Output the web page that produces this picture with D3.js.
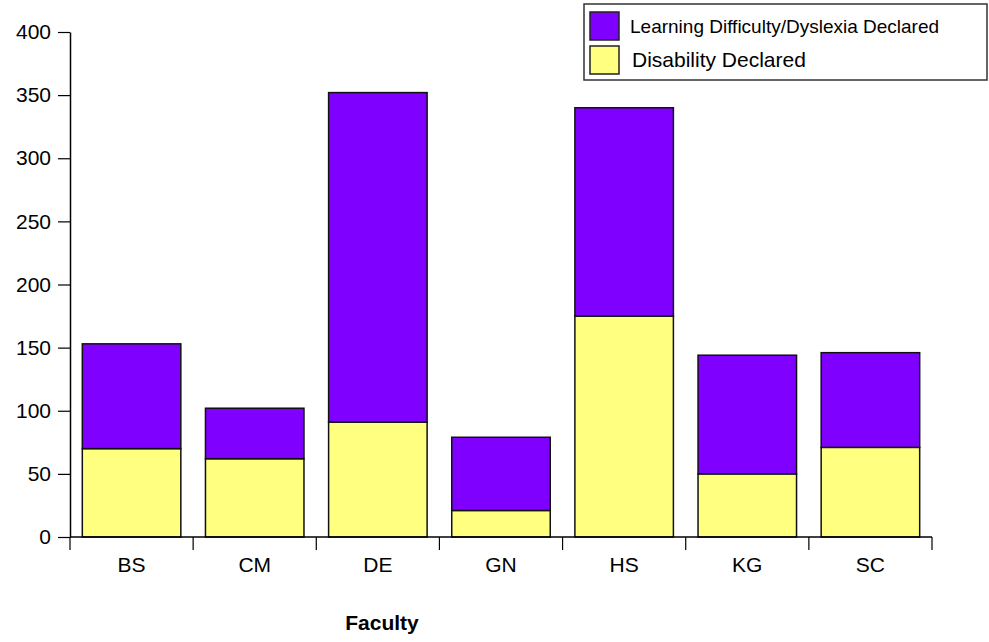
<!DOCTYPE html>
<html>
<head>
<meta charset="utf-8">
<script src="https://cdn.jsdelivr.net/npm/d3@7"></script>
<style>
  body { margin: 0; background: #fff; }
  text { font-family: "Liberation Sans", Arial, sans-serif; fill: #000; }
</style>
</head>
<body>
<svg id="chart" width="989" height="642"></svg>
<script>
const categories = ["BS", "CM", "DE", "GN", "HS", "KG", "SC"];
const disability = [70, 62, 91, 21, 175, 50, 71];
const learning = [83, 40, 261, 58, 165, 94, 75];
const yTicks = [0, 50, 100, 150, 200, 250, 300, 350, 400];
const seriesNames = ["Learning Difficulty/Dyslexia Declared", "Disability Declared"];
const seriesColors = ["#8000FF", "#FFFF80"];

const svg = d3.select("#chart");
const x = d3.scaleBand().domain(categories).range([70, 932]).paddingInner(0.2).paddingOuter(0.1);
const y = d3.scaleLinear().domain([0, 400]).range([537, 32]);

const rows = categories.map((c, i) => ({ cat: c, disability: disability[i], learning: learning[i] }));
const stack = d3.stack().keys(["disability", "learning"])(rows);
const colorFor = { disability: seriesColors[1], learning: seriesColors[0] };

svg.append("g").selectAll("g").data(stack).join("g")
  .attr("fill", d => colorFor[d.key])
  .selectAll("rect").data(d => d).join("rect")
  .attr("x", d => x(d.data.cat))
  .attr("y", d => y(d[1]))
  .attr("width", x.bandwidth())
  .attr("height", d => y(d[0]) - y(d[1]))
  .attr("stroke", "#111")
  .attr("stroke-width", 1.5);

// Y axis
const yAxis = svg.append("g").attr("transform", "translate(70,0)")
  .call(d3.axisLeft(y).tickValues(yTicks).tickSize(12).tickPadding(7).tickSizeOuter(0));
yAxis.select(".domain").attr("stroke", "#000").attr("stroke-width", 1.5);
yAxis.selectAll(".tick line").attr("stroke", "#000").attr("stroke-width", 1.2);
yAxis.selectAll("text").style("font-size", "21px").style("font-family", "Liberation Sans, Arial, sans-serif");

// X axis: baseline with ticks at band boundaries
const xg = svg.append("g").attr("transform", "translate(0,537)");
xg.append("line").attr("x1", 70).attr("x2", 932).attr("y1", 0).attr("y2", 0)
  .attr("stroke", "#000").attr("stroke-width", 1.5);
const bounds = categories.map(c => x(c) - x.step() * x.paddingInner() / 2 - (c === categories[0] ? x.step() * (x.paddingOuter() - x.paddingInner() / 2) : 0));
bounds.push(932);
xg.selectAll("line.tk").data(bounds).join("line").attr("class", "tk")
  .attr("x1", d => d).attr("x2", d => d).attr("y1", 0).attr("y2", 13)
  .attr("stroke", "#000").attr("stroke-width", 1.2);
xg.selectAll("text").data(categories).join("text")
  .attr("x", d => x(d) + x.bandwidth() / 2)
  .attr("y", 35)
  .attr("text-anchor", "middle")
  .style("font-size", "21px")
  .text(d => d);

svg.append("text").attr("x", 382).attr("y", 630).attr("text-anchor", "middle")
  .style("font-size", "21px").style("font-weight", "bold").text("Faculty");

// Legend
const lg = svg.append("g");
lg.append("rect").attr("x", 584).attr("y", 4).attr("width", 403).attr("height", 76)
  .attr("fill", "#fff").attr("stroke", "#333").attr("stroke-width", 1.5);
seriesNames.forEach((n, i) => {
  lg.append("rect").attr("x", 590).attr("y", 12 + i * 34).attr("width", 29).attr("height", 28)
    .attr("fill", seriesColors[i]).attr("stroke", "#222").attr("stroke-width", 1.5);
  lg.append("text").attr("x", i === 0 ? 630 : 632).attr("y", i === 0 ? 33 : 67)
    .style("font-size", i === 0 ? "19px" : "21px").text(n);
});
</script>
</body>
</html>
